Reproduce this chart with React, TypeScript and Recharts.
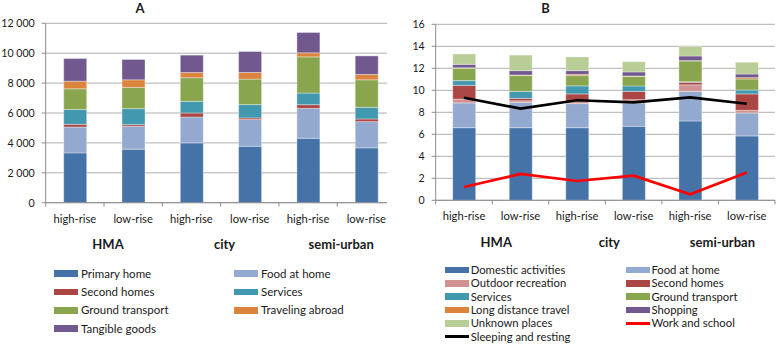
import React from 'react';
import { BarChart, ComposedChart, Bar, Line, XAxis, YAxis, CartesianGrid } from 'recharts';

// ---------- data ----------
const categories = ['high-rise', 'low-rise', 'high-rise', 'low-rise', 'high-rise', 'low-rise'];
const groups = ['HMA', 'city', 'semi-urban'];

// Panel A
const primaryHome = [3330, 3580, 4000, 3780, 4310, 3670];
const foodAtHomeA = [1730, 1530, 1730, 1780, 2000, 1750];
const secondHomesA = [180, 110, 270, 110, 245, 180];
const servicesA = [1000, 1070, 780, 890, 780, 780];
const groundTransportA = [1380, 1420, 1580, 1710, 2420, 1840];
const travelingAbroad = [510, 510, 350, 440, 270, 360];
const tangibleGoods = [1510, 1360, 1160, 1400, 1360, 1240];
const ticksA = [0, 2000, 4000, 6000, 8000, 10000, 12000];

// Panel B
const domesticActivities = [6.6, 6.6, 6.6, 6.73, 7.21, 5.85];
const foodAtHomeB = [2.25, 2.3, 2.19, 2.12, 2.69, 2.09];
const outdoorRecreation = [0.35, 0.15, 0.2, 0.3, 0.6, 0.24];
const secondHomesB = [1.25, 0.22, 0.68, 0.75, 0.23, 1.49];
const servicesB = [0.43, 0.63, 0.73, 0.49, 0.05, 0.36];
const groundTransportB = [1.12, 1.46, 0.93, 0.88, 1.89, 1.0];
const longDistanceTravel = [0.05, 0.03, 0.12, 0.03, 0.03, 0.12];
const shopping = [0.31, 0.4, 0.34, 0.37, 0.42, 0.33];
const unknownPlaces = [0.94, 1.41, 1.24, 0.93, 0.85, 1.07];
const sleepingAndResting = [9.32, 8.34, 9.1, 8.9, 9.36, 8.78];
const workAndSchool = [1.2, 2.4, 1.75, 2.24, 0.55, 2.52];
const ticksB = [0, 2, 4, 6, 8, 10, 12, 14, 16];

// ---------- styles ----------
const FONT = 'Lato, "Open Sans", sans-serif';
const GRID = '#b0b0b0';
const AXIS = '#8c8c8c';
const TEXT = '#1a1a1a';

const C = {
  blue: '#4572A7',
  lightBlue: '#93A9CF',
  red: '#AA4643',
  pink: '#D19392',
  teal: '#4198AF',
  green: '#89A54E',
  orange: '#DB843D',
  purple: '#71588F',
  lightGreen: '#B9CD96',
};

const seriesA = [
  { key: 'primary', name: 'Primary home', color: C.blue, values: primaryHome },
  { key: 'food', name: 'Food at home', color: C.lightBlue, values: foodAtHomeA },
  { key: 'second', name: 'Second homes', color: C.red, values: secondHomesA },
  { key: 'services', name: 'Services', color: C.teal, values: servicesA },
  { key: 'ground', name: 'Ground transport', color: C.green, values: groundTransportA },
  { key: 'abroad', name: 'Traveling abroad', color: C.orange, values: travelingAbroad },
  { key: 'tangible', name: 'Tangible goods', color: C.purple, values: tangibleGoods },
];

const seriesB = [
  { key: 'domestic', name: 'Domestic activities', color: C.blue, values: domesticActivities },
  { key: 'food', name: 'Food at home', color: C.lightBlue, values: foodAtHomeB },
  { key: 'outdoor', name: 'Outdoor recreation', color: C.pink, values: outdoorRecreation },
  { key: 'second', name: 'Second homes', color: C.red, values: secondHomesB },
  { key: 'services', name: 'Services', color: C.teal, values: servicesB },
  { key: 'ground', name: 'Ground transport', color: C.green, values: groundTransportB },
  { key: 'long', name: 'Long distance travel', color: C.orange, values: longDistanceTravel },
  { key: 'shopping', name: 'Shopping', color: C.purple, values: shopping },
  { key: 'unknown', name: 'Unknown places', color: C.lightGreen, values: unknownPlaces },
];

const linesB = [
  { key: 'work', name: 'Work and school', color: '#FF0000', values: workAndSchool },
  { key: 'sleep', name: 'Sleeping and resting', color: '#000000', values: sleepingAndResting },
];

const dataA = categories.map((c, i) => {
  const row: any = { cat: c, idx: i };
  seriesA.forEach((s) => (row[s.key] = s.values[i]));
  return row;
});

const dataB = categories.map((c, i) => {
  const row: any = { cat: c, idx: i };
  seriesB.forEach((s) => (row[s.key] = s.values[i]));
  linesB.forEach((s) => (row[s.key] = s.values[i]));
  return row;
});

const fmtThousands = (v: number) => {
  if (v >= 1000) {
    const th = Math.floor(v / 1000);
    const rest = String(v % 1000).padStart(3, '0');
    return `${th}\u00a0${rest}`;
  }
  return String(v);
};

const makeYTick = (fmt: (v: number) => string) => (props: any) => {
  const { x, y, payload } = props;
  return (
    <text
      x={x}
      y={y}
      dy={3.8}
      textAnchor="end"
      fontSize={10.6}
      fill={TEXT}
      fontFamily={FONT}
    >
      {fmt(payload.value)}
    </text>
  );
};

const makeTick = (band: number, labelDy: number, groupDy: number) => (props: any) => {
  const { x, y, payload, index } = props;
  const half = band / 2;
  return (
    <g>
      <line x1={x - half} x2={x - half} y1={y} y2={y + 4} stroke={AXIS} />
      {index === categories.length - 1 && (
        <line x1={x + half} x2={x + half} y1={y} y2={y + 4} stroke={AXIS} />
      )}
      <text x={x} y={y + labelDy} textAnchor="middle" fontSize={11.2} fill={TEXT} fontFamily={FONT}>
        {payload.value}
      </text>
      {index % 2 === 0 && (
        <text
          x={x + half + 4}
          y={y + groupDy}
          textAnchor="middle"
          fontSize={13}
          fontWeight="bold"
          fill={TEXT}
          fontFamily={FONT}
        >
          {groups[index / 2]}
        </text>
      )}
    </g>
  );
};

type LegendItem = { name: string; color: string; line?: boolean };

const LegendBlock = ({
  items,
  cols,
  rowY,
  swW,
  textGap,
  fontSize,
}: {
  items: LegendItem[];
  cols: number[];
  rowY: number[];
  swW: number;
  textGap: number;
  fontSize: number;
}) => (
  <>
    {items.map((it, i) => {
      const r = Math.floor(i / 2);
      const c = i % 2;
      const cy = rowY[r];
      const sx = cols[c];
      const sh = it.line ? 2.6 : 6.7;
      return (
        <React.Fragment key={it.name + i}>
          <div
            style={{
              position: 'absolute',
              left: sx,
              top: cy - sh / 2,
              width: swW,
              height: sh,
              background: it.color,
            }}
          />
          <div
            style={{
              position: 'absolute',
              left: sx + swW + textGap,
              top: cy - fontSize * 0.62,
              fontSize,
              lineHeight: `${fontSize * 1.2}px`,
              color: TEXT,
              fontFamily: FONT,
              whiteSpace: 'nowrap',
            }}
          >
            {it.name}
          </div>
        </React.Fragment>
      );
    })}
  </>
);

const legendA: LegendItem[] = seriesA.map((s) => ({ name: s.name, color: s.color }));
const legendB: LegendItem[] = [
  ...seriesB.map((s) => ({ name: s.name, color: s.color })),
  ...linesB.map((s) => ({ name: s.name, color: s.color, line: true })),
];

export default function App() {
  const bandA = (400 - 45.7 - 4.5) / 6;
  const bandB = (387 - 45.7 - 2) / 6;
  return (
    <div
      style={{
        position: 'absolute',
        left: 0,
        top: 0,
        width: 777,
        height: 344,
        background: '#ffffff',
        fontFamily: FONT,
        overflow: 'hidden',
      }}
    >
      {/* Titles */}
      <div
        style={{
          position: 'absolute',
          left: 120,
          width: 40,
          top: 0,
          textAlign: 'center',
          fontWeight: 'bold',
          fontSize: 13,
          lineHeight: '16px',
          color: TEXT,
        }}
      >
        A
      </div>
      <div
        style={{
          position: 'absolute',
          left: 525.5,
          width: 40,
          top: 0,
          textAlign: 'center',
          fontWeight: 'bold',
          fontSize: 13,
          lineHeight: '16px',
          color: TEXT,
        }}
      >
        B
      </div>

      {/* Panel A */}
      <div style={{ position: 'absolute', left: 0, top: 0, width: 387, height: 260, overflow: 'hidden' }}>
        <BarChart
          width={400}
          height={260}
          data={dataA}
          margin={{ top: 23.3, right: 4.5, left: 0, bottom: 27.3 }}
          barSize={23}
        >
          <CartesianGrid vertical={false} stroke={GRID} />
          <XAxis
            dataKey="cat"
            height={30}
            interval={0}
            tickLine={false}
            tickSize={0}
            tickMargin={0}
            stroke={AXIS}
            tick={makeTick(bandA, 20.5, 46)}
          />
          <YAxis
            width={45.7}
            domain={[0, 12000]}
            ticks={ticksA}
            tickSize={4}
            tickMargin={7}
            stroke={AXIS}
            tick={makeYTick(fmtThousands)}
            interval={0}
          />
          {seriesA.map((s) => (
            <Bar
              key={s.key}
              dataKey={s.key}
              name={s.name}
              stackId="a"
              fill={s.color}
              stroke="#ffffff"
              strokeOpacity={0.35}
              isAnimationActive={false}
            />
          ))}
        </BarChart>
      </div>

      {/* Panel B */}
      <div style={{ position: 'absolute', left: 390, top: 0, width: 387, height: 260 }}>
        <ComposedChart
          width={387}
          height={260}
          data={dataB}
          margin={{ top: 24.3, right: 2, left: 0, bottom: 29.7 }}
          barSize={23}
        >
          <CartesianGrid vertical={false} stroke={GRID} />
          <XAxis
            dataKey="cat"
            height={30}
            interval={0}
            tickLine={false}
            tickSize={0}
            tickMargin={0}
            stroke={AXIS}
            tick={makeTick(bandB, 20, 47)}
          />
          <YAxis
            width={45.7}
            domain={[0, 16]}
            ticks={ticksB}
            tickSize={4}
            tickMargin={7}
            stroke={AXIS}
            tick={makeYTick((v) => String(v))}
            interval={0}
          />
          {seriesB.map((s) => (
            <Bar
              key={s.key}
              dataKey={s.key}
              name={s.name}
              stackId="b"
              fill={s.color}
              stroke="#ffffff"
              strokeOpacity={0.35}
              isAnimationActive={false}
            />
          ))}
          <Line
            dataKey="sleep"
            name="Sleeping and resting"
            type="linear"
            stroke="#000000"
            strokeWidth={2.6}
            dot={false}
            isAnimationActive={false}
          />
          <Line
            dataKey="work"
            name="Work and school"
            type="linear"
            stroke="#FF0000"
            strokeWidth={2.6}
            dot={false}
            isAnimationActive={false}
          />
        </ComposedChart>
      </div>

      {/* Legends */}
      <LegendBlock
        items={legendA}
        cols={[54.3, 234.3]}
        rowY={[273.7, 292, 310.3, 328.7]}
        swW={24}
        textGap={2.7}
        fontSize={11.5}
      />
      <LegendBlock
        items={legendB}
        cols={[445, 625.7]}
        rowY={[270, 283.3, 296.7, 310, 323.3, 336.7]}
        swW={24}
        textGap={1.7}
        fontSize={11.3}
      />
    </div>
  );
}
